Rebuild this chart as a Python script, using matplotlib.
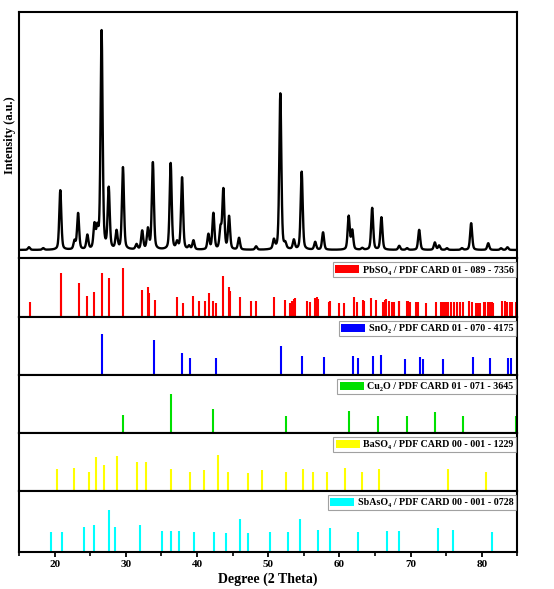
import numpy as np
import matplotlib
matplotlib.use("Agg")
import matplotlib.pyplot as plt
from matplotlib.patches import Patch
from matplotlib.font_manager import FontProperties
from matplotlib.ticker import MultipleLocator

# ---------------- data ----------------
# measured XRD pattern: peak positions (2theta) and heights (arb. units)
xrd_pos = [16.4, 18.4, 20.8, 22.8, 23.3, 24.6, 25.6, 26.0, 26.6, 27.6, 28.7, 29.6,
           31.5, 32.3, 33.1, 33.8, 36.3, 37.2, 37.9, 38.9, 39.5, 41.6, 42.3, 43.3,
           43.7, 44.5, 45.9, 48.3, 50.8, 51.7, 52.4, 53.6, 54.7, 56.6, 57.7, 61.3,
           61.8, 63.2, 64.6, 65.9, 68.4, 69.5, 71.2, 73.4, 74.0, 75.1, 77.2, 78.5,
           80.9, 82.7, 83.6]
xrd_int = [8, 5, 178, 25, 108, 42, 70, 55, 652, 180, 53, 245,
           15, 55, 60, 260, 258, 20, 215, 10, 27, 45, 108, 60,
           178, 98, 35, 10, 27, 467, 15, 28, 233, 23, 52, 100,
           57, 5, 125, 97, 12, 5, 60, 22, 13, 5, 5, 80,
           20, 5, 8]

pbso4_pos = [16.5, 20.85, 20.9, 23.4, 24.6, 25.6, 26.7, 27.6, 29.65, 32.3, 33.1, 33.2,
             34.1, 37.2, 38.1, 39.5, 40.3, 41.1, 41.7, 42.3, 42.6, 43.7, 44.5, 44.6,
             45.97, 47.65, 48.35, 50.85, 52.4, 53.1, 53.3, 53.6, 53.8, 55.4, 55.8,
             56.6, 56.8, 57.0, 58.6, 58.7, 59.9, 60.7, 62.0, 62.5, 63.3, 63.4, 64.5,
             65.2, 66.1, 66.4, 66.6, 67.0, 67.4, 67.7, 68.3, 68.4, 69.5, 69.7, 69.9,
             70.7, 71.1, 72.2, 73.5, 74.2, 74.5, 74.8, 75.0, 75.3, 75.6, 76.1, 76.5,
             77.0, 77.3, 78.2, 78.6, 79.2, 79.5, 79.8, 80.3, 80.5, 80.9, 81.2, 81.4,
             81.6, 82.9, 83.2, 83.5, 84.0, 84.3, 84.8]
pbso4_int = [45, 130, 80, 100, 63, 73, 130, 115, 145, 80, 90, 72,
             52, 60, 43, 62, 48, 48, 70, 48, 42, 123, 88, 77,
             60, 47, 49, 60, 50, 43, 47, 53, 55, 48, 45,
             55, 60, 53, 45, 48, 43, 43, 58, 45, 50, 49, 55,
             50, 45, 50, 54, 49, 45, 45, 48, 48, 47, 47, 45,
             45, 44, 43, 46, 45, 45, 45, 45, 45, 45, 45, 45,
             45, 44, 48, 45, 42, 43, 43, 44, 45, 46, 46, 45,
             43, 48, 47, 45, 45, 45, 45]

sno2_pos = [26.6, 33.9, 37.95, 38.97, 42.6, 51.8, 54.76, 57.8, 61.87, 62.59,
            64.7, 65.9, 69.2, 71.28, 71.8, 74.5, 78.7, 81.2, 83.7, 84.1]
sno2_int = [122, 105, 65, 52, 50, 87, 58, 53, 57, 50,
            57, 59, 49, 53, 49, 49, 55, 52, 52, 52]

cu2o_pos = [29.55, 36.4, 42.3, 52.45, 61.35, 65.4, 69.5, 73.45, 77.3, 84.85]
cu2o_int = [54, 116, 72, 51, 66, 51, 51, 63, 52, 51]

baso4_pos = [20.38, 22.77, 24.87, 25.85, 26.88, 28.75, 31.51, 32.82, 36.29, 38.95,
             40.92, 42.98, 44.33, 47.23, 49.15, 52.47, 54.86, 56.31, 58.27, 60.8,
             63.19, 65.57, 75.26, 80.59]
baso4_int = [67, 70, 58, 103, 79, 105, 86, 88, 65, 58,
             63, 109, 57, 53, 63, 58, 65, 58, 58, 70,
             57, 67, 65, 57]

sbaso4_pos = [19.49, 21.04, 24.12, 25.48, 27.63, 28.43, 32.03, 35.12, 36.29, 37.41,
              39.61, 42.37, 44.1, 45.97, 47.23, 50.27, 52.8, 54.53, 57.06, 58.7,
              62.67, 66.69, 68.38, 73.9, 76.0, 81.38]
sbaso4_int = [57, 57, 70, 78, 120, 72, 78, 60, 60, 60,
              57, 56, 55, 95, 55, 56, 56, 95, 63, 68,
              56, 60, 60, 68, 63, 56]

ref_labels = ["PbSO₄ / PDF CARD 01 - 089 - 7356",
              "SnO₂ / PDF CARD 01 - 070 - 4175",
              "Cu₂O / PDF CARD 01 - 071 - 3645",
              "BaSO₄ / PDF CARD 00 - 001 - 1229",
              "SbAsO₄ / PDF CARD 00 - 001 - 0728"]
ref_colors = ["#ff0000", "#0000ff", "#00e000", "#ffff00", "#00ffff"]

x_ticks = [20, 30, 40, 50, 60, 70, 80]
x_label = "Degree (2 Theta)"
y_label = "Intensity (a.u.)"

# ---------------- figure ----------------
serif = ["Liberation Serif", "DejaVu Serif"]
plt.rcParams["font.family"] = serif
plt.rcParams["font.weight"] = "bold"

fig = plt.figure(figsize=(5.54, 5.89), dpi=100)
gs = fig.add_gridspec(6, 1, height_ratios=[246.6, 58.7, 58, 58, 58, 61],
                      hspace=0, left=0.0343, right=0.934, top=0.980, bottom=0.0628)
axes = [fig.add_subplot(gs[i]) for i in range(6)]

# measured pattern (pseudo-Voigt profile for each read peak)
tt = np.linspace(15, 85, 3501)
fwhm = 0.34
prof = np.zeros_like(tt)
for p, h in zip(xrd_pos, xrd_int):
    d = (tt - p) / (fwhm / 2)
    prof += h * (0.4 / (1 + d**2) + 0.6 * np.exp(-np.log(2) * d**2))
ax0 = axes[0]
ax0.plot(tt, prof, color="black", lw=1.7)
ax0.set_ylim(-25, 712)
ax0.set_ylabel(y_label, fontsize=9, fontweight="bold", labelpad=2)

refs = [(pbso4_pos, pbso4_int), (sno2_pos, sno2_int), (cu2o_pos, cu2o_int),
        (baso4_pos, baso4_int), (sbaso4_pos, sbaso4_int)]
leg_font = FontProperties(family=serif, weight="bold", size=7.2)
for ax, (pos, inten), col, lab in zip(axes[1:], refs, ref_colors, ref_labels):
    ax.vlines(pos, 0, inten, colors=col, lw=1.5)
    ax.set_ylim(0, 174)
    leg = ax.legend(handles=[Patch(facecolor=col, edgecolor="none")], labels=[lab],
                    loc="upper right", bbox_to_anchor=(0.997, 0.93), borderaxespad=0,
                    prop=leg_font, frameon=True, fancybox=False, borderpad=0.25,
                    handlelength=2.4, handleheight=0.9, handletextpad=0.35)
    leg.get_frame().set_edgecolor("#8a8a8a")
    leg.get_frame().set_linewidth(0.8)

for i, ax in enumerate(axes):
    ax.set_xlim(15, 85)
    ax.set_yticks([])
    for s in ax.spines.values():
        s.set_linewidth(1.5)
    if i < 5:
        ax.set_xticks([])
        ax.tick_params(axis="x", which="both", bottom=False, labelbottom=False)

axb = axes[-1]
axb.set_xticks(x_ticks)
axb.xaxis.set_minor_locator(MultipleLocator(5))
axb.tick_params(axis="x", which="major", direction="out", length=3.5, width=1.3,
                labelsize=8, pad=2)
axb.tick_params(axis="x", which="minor", direction="out", length=3, width=1.2)
for t in axb.get_xticklabels():
    t.set_fontweight("bold")
axb.set_xlabel(x_label, fontsize=10, fontweight="bold", labelpad=3)

fig.savefig("out.png", dpi=100)
